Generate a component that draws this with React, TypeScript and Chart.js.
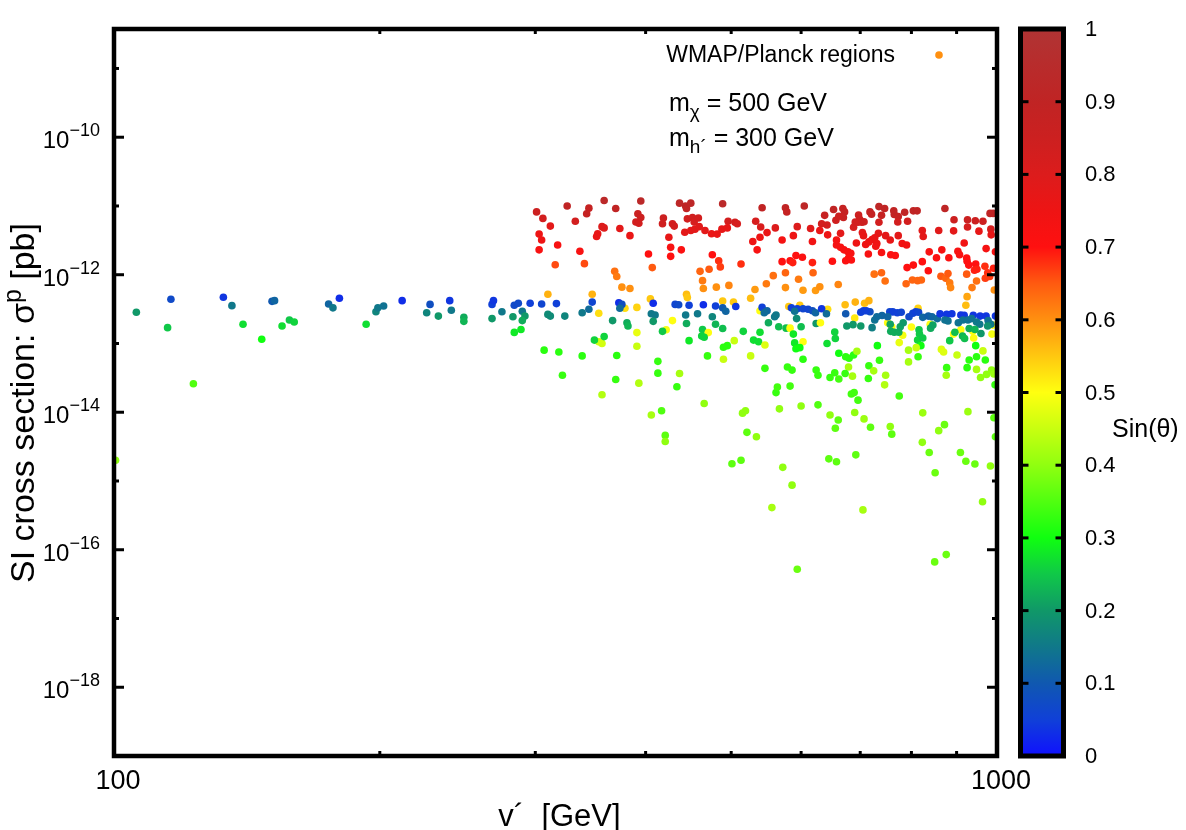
import React, { useEffect, useRef } from 'react';
import { Chart, registerables } from 'chart.js';

Chart.register(...registerables);

// Each point: [v' (GeV), SI cross section sigma^p (pb), sin(theta)]
type Pt = [number, number, number];

const pointsBelow300: Pt[] = [
  [106, 2.85e-13, 0.2], [116, 4.4e-13, 0.07], [115, 1.7e-13, 0.25], [123, 2.6e-14, 0.35], [133, 4.7e-13, 0.04],
  [136, 3.55e-13, 0.15], [140, 1.9e-13, 0.27], [147, 1.15e-13, 0.3], [151, 4.1e-13, 0.1], [152, 4.2e-13, 0.12],
  [155, 1.8e-13, 0.27], [158, 2.2e-13, 0.25], [160, 2.05e-13, 0.26], [175, 3.75e-13, 0.12], [177, 3.3e-13, 0.15],
  [180, 4.55e-13, 0.03], [193, 1.9e-13, 0.27], [198, 2.9e-13, 0.17], [199, 3.3e-13, 0.15], [202, 3.5e-13, 0.14],
  [212, 4.2e-13, 0.03], [226, 2.8e-13, 0.17], [228, 3.7e-13, 0.08], [233, 2.5e-13, 0.2], [240, 4.2e-13, 0.04],
  [241, 3.05e-13, 0.15], [249, 2.4e-13, 0.22], [249, 2.1e-13, 0.23], [268, 3.7e-13, 0.05], [269, 4.2e-13, 0.04],
  [268, 2.3e-13, 0.2], [275, 2.9e-13, 0.15], [283, 2.45e-13, 0.2], [284, 3.6e-13, 0.07], [287, 3.85e-13, 0.07],
  [290, 2.95e-13, 0.15], [292, 2.5e-13, 0.2], [290, 2.15e-13, 0.22], [284, 1.45e-13, 0.28], [289, 1.6e-13, 0.28],
  [296, 3.85e-13, 0.05], [100.4, 2e-15, 0.4],
];

const points300to440: Pt[] = [
  [305, 3.75e-13, 0.06], [310, 5.2e-13, 0.57], [307, 8e-14, 0.32], [310, 2.65e-13, 0.18],
  [301, 8.2e-12, 0.85], [306, 6.6e-12, 0.83], [312, 5.1e-12, 0.78], [303, 3.9e-12, 0.75], [305, 3.2e-12, 0.75],
  [303, 2.3e-12, 0.72], [318, 2.7e-12, 0.72], [316, 1.4e-12, 0.66], [326, 1e-11, 0.9], [333, 6e-12, 0.83],
  [337, 2.2e-12, 0.72], [341, 1.45e-12, 0.66], [345, 9.3e-12, 0.88], [343, 7.7e-12, 0.88], [359, 1.2e-11, 0.93],
  [357, 5e-12, 0.8], [359, 4.8e-12, 0.8], [353, 3.95e-12, 0.77], [352, 3.6e-12, 0.76], [370, 9.2e-12, 0.9],
  [374, 4.7e-12, 0.78], [384, 3.7e-12, 0.76], [395, 1.18e-11, 0.93], [392, 7.7e-12, 0.86], [395, 6.8e-12, 0.85],
  [390, 5.85e-12, 0.83], [393, 5.6e-12, 0.83], [403, 2e-12, 0.7], [407, 1.27e-12, 0.65], [369, 1.12e-12, 0.63],
  [371, 9.4e-13, 0.62], [376, 6.6e-13, 0.6], [384, 6.3e-13, 0.6], [419, 6.7e-12, 0.85], [418, 5.5e-12, 0.84],
  [429, 5.5e-12, 0.83], [431, 5.1e-12, 0.83], [425, 3.5e-12, 0.77], [427, 2.5e-12, 0.72], [427, 1.85e-12, 0.7],
  [437, 1.1e-11, 0.92],
  [348, 5.2e-13, 0.57], [405, 4.45e-13, 0.55], [354, 2.75e-13, 0.53], [379, 3.25e-13, 0.53], [391, 3.35e-13, 0.54],
  [429, 2.15e-13, 0.5], [391, 1.44e-13, 0.48], [422, 1.58e-13, 0.49], [354, 1.06e-13, 0.46], [357, 1e-13, 0.46],
  [391, 9.1e-14, 0.45], [393, 2.65e-14, 0.43], [437, 3.65e-14, 0.42],
  [317, 3.8e-13, 0.05], [348, 4e-13, 0.06], [373, 3.9e-13, 0.03], [376, 3.7e-13, 0.08], [408, 3.85e-13, 0.03],
  [432, 3.7e-13, 0.06], [436, 3.65e-13, 0.07],
  [312, 2.5e-13, 0.18], [324, 2.5e-13, 0.17], [339, 2.8e-13, 0.15], [345, 3.15e-13, 0.13], [374, 3.25e-13, 0.13],
  [367, 2.15e-13, 0.2], [381, 2e-13, 0.22], [382, 1.8e-13, 0.23], [406, 2.7e-13, 0.15], [410, 2.6e-13, 0.15],
  [408, 2.1e-13, 0.2], [418, 1.5e-13, 0.25], [350, 1.12e-13, 0.26], [359, 1.26e-13, 0.26], [319, 7.5e-14, 0.32],
  [339, 6.6e-14, 0.32], [371, 6.7e-14, 0.32], [322, 3.45e-14, 0.33], [370, 3e-14, 0.33], [413, 5.5e-14, 0.33],
  [413, 3.7e-14, 0.33], [434, 2.35e-14, 0.33],
];

const points440to660: Pt[] = [
  [444, 1e-11, 0.9], [450, 1.1e-11, 0.92], [445, 9.2e-12, 0.9], [489, 1.08e-11, 0.93], [542, 9.4e-12, 0.9],
  [576, 9.4e-12, 0.9], [578, 8.2e-12, 0.88], [605, 1e-11, 0.92], [638, 7.3e-12, 0.87], [653, 8.9e-12, 0.9],
  [446, 6.5e-12, 0.83], [452, 6.8e-12, 0.84], [454, 5.85e-12, 0.82], [459, 6.7e-12, 0.83], [496, 6e-12, 0.83],
  [505, 5.8e-12, 0.83], [508, 5.5e-12, 0.82], [533, 6e-12, 0.82], [540, 4.95e-12, 0.81], [561, 4.8e-12, 0.8],
  [594, 5e-12, 0.8], [615, 4.7e-12, 0.79], [633, 5.5e-12, 0.83], [642, 5.3e-12, 0.83], [657, 6.2e-12, 0.84],
  [662, 7.1e-12, 0.85],
  [443, 4.15e-12, 0.78], [450, 4.4e-12, 0.78], [455, 4.6e-12, 0.78], [460, 5e-12, 0.79], [467, 4.4e-12, 0.78],
  [475, 3.95e-12, 0.76], [482, 3.9e-12, 0.76], [488, 4.6e-12, 0.77], [495, 4.8e-12, 0.77], [529, 3.05e-12, 0.75],
  [539, 3.5e-12, 0.75], [549, 4.1e-12, 0.76], [535, 2.3e-12, 0.72], [571, 3.2e-12, 0.73], [588, 3.7e-12, 0.75],
  [618, 3.05e-12, 0.74], [630, 4.4e-12, 0.76], [643, 3.8e-12, 0.75], [658, 3.2e-12, 0.73], [658, 2.7e-12, 0.73],
  [439, 2.3e-12, 0.71], [476, 1.95e-12, 0.7], [484, 1.6e-12, 0.68], [486, 1.3e-12, 0.67], [513, 1.43e-12, 0.68],
  [571, 1.55e-12, 0.7], [583, 1.6e-12, 0.7], [587, 1.5e-12, 0.69], [592, 1.9e-12, 0.7], [602, 1.8e-12, 0.71],
  [618, 1.5e-12, 0.69], [651, 1.57e-12, 0.7],
  [461, 1.12e-12, 0.64], [472, 1.2e-12, 0.65], [464, 8.2e-13, 0.62], [465, 6.3e-13, 0.6], [481, 6.6e-13, 0.6],
  [497, 7e-13, 0.61], [532, 6.1e-13, 0.59], [548, 7.4e-13, 0.62], [558, 9.7e-13, 0.63], [576, 1.07e-12, 0.64],
  [596, 8.6e-13, 0.62], [576, 6.5e-13, 0.6], [603, 5.95e-13, 0.59], [623, 5.9e-13, 0.59], [630, 6.7e-13, 0.6],
  [619, 1.07e-12, 0.64], [661, 7.2e-13, 0.61], [526, 4.55e-13, 0.56], [445, 5.2e-13, 0.56], [446, 4.65e-13, 0.55],
  [489, 4.15e-13, 0.55], [503, 4e-13, 0.55], [581, 3.45e-13, 0.55], [598, 3.6e-13, 0.55], [643, 3.15e-13, 0.53],
  [539, 3e-13, 0.5],
  [448, 3.6e-13, 0.05], [465, 3.65e-13, 0.03], [480, 3.5e-13, 0.05], [489, 3.3e-13, 0.1], [493, 2.95e-13, 0.12],
  [506, 3.45e-13, 0.04], [542, 3.35e-13, 0.05], [549, 3e-13, 0.12], [545, 2.8e-13, 0.13], [585, 3.3e-13, 0.05],
  [594, 3.2e-13, 0.05], [603, 3.2e-13, 0.06], [611, 3.15e-13, 0.06], [618, 3e-13, 0.08], [623, 2.8e-13, 0.12],
  [633, 3.2e-13, 0.04], [641, 2.7e-13, 0.13],
  [444, 2.6e-13, 0.15], [458, 2.7e-13, 0.15], [476, 2.45e-13, 0.17], [562, 2.6e-13, 0.15], [560, 2.45e-13, 0.15],
  [590, 2.95e-13, 0.14], [593, 2.3e-13, 0.18], [445, 1.95e-13, 0.22], [480, 1.9e-13, 0.23], [489, 1.65e-13, 0.24],
  [551, 2e-13, 0.22], [566, 1.75e-13, 0.24], [577, 1.67e-13, 0.24], [600, 1.75e-13, 0.24], [624, 1.95e-13, 0.2],
  [631, 2e-13, 0.5], [583, 1.67e-13, 0.5], [464, 1.6e-13, 0.25], [471, 1.44e-13, 0.5], [463, 1.28e-13, 0.26],
  [466, 1.23e-13, 0.26], [516, 1.5e-13, 0.26], [539, 1.46e-13, 0.27], [530, 1.12e-13, 0.27], [537, 1.06e-13, 0.27],
  [546, 9.5e-14, 0.47], [588, 1.37e-13, 0.28], [590, 1.02e-13, 0.28], [603, 1.06e-13, 0.5], [592, 8.4e-14, 0.3],
  [598, 8.7e-14, 0.3], [603, 5.9e-14, 0.32], [655, 1.47e-13, 0.26], [656, 1.18e-13, 0.26], [642, 1e-13, 0.27],
  [448, 1.1e-13, 0.28], [504, 1.1e-13, 0.45], [495, 9.3e-14, 0.32], [490, 8.8e-14, 0.32], [526, 6.6e-14, 0.45],
  [490, 5.9e-14, 0.45], [470, 6.6e-14, 0.33], [546, 4.35e-14, 0.33], [579, 4.55e-14, 0.33], [586, 4.1e-14, 0.33],
  [624, 4.1e-14, 0.33], [627, 3.45e-14, 0.33], [655, 3.75e-14, 0.33], [647, 3.2e-14, 0.33], [662, 3.05e-14, 0.34],
  [564, 2.33e-14, 0.34], [583, 2.4e-14, 0.34], [662, 7.2e-14, 0.3],
];

const points660to1000: Pt[] = [
  [669, 9.2e-12, 0.88], [672, 8.2e-12, 0.88], [670, 6.8e-12, 0.87], [697, 7.4e-12, 0.85], [699, 6.4e-12, 0.85],
  [696, 5.8e-12, 0.84], [703, 5.8e-12, 0.84], [707, 5.9e-12, 0.85], [718, 8.2e-12, 0.88], [721, 7.6e-12, 0.88],
  [735, 9.8e-12, 0.92], [746, 9.2e-12, 0.9], [740, 7.3e-12, 0.88], [764, 8.5e-12, 0.9], [765, 7.5e-12, 0.89],
  [773, 7e-12, 0.88], [786, 8.1e-12, 0.9], [804, 8.5e-12, 0.9], [812, 8.5e-12, 0.9], [873, 9.2e-12, 0.91],
  [982, 7.8e-12, 0.9], [990, 7.8e-12, 0.9], [894, 6.3e-12, 0.85], [926, 6.3e-12, 0.86], [945, 6.1e-12, 0.85],
  [964, 6e-12, 0.85], [688, 4.9e-12, 0.82], [691, 5.85e-12, 0.83], [735, 5.8e-12, 0.83], [772, 5.85e-12, 0.83],
  [792, 6e-12, 0.83], [926, 4.95e-12, 0.82], [984, 4.6e-12, 0.82],
  [665, 4e-12, 0.78], [704, 4.1e-12, 0.78], [706, 3.7e-12, 0.77], [734, 4e-12, 0.78], [748, 3.7e-12, 0.78],
  [757, 3.2e-12, 0.77], [773, 3.7e-12, 0.78], [823, 4.4e-12, 0.78], [825, 3.6e-12, 0.78], [859, 4.4e-12, 0.79],
  [893, 4.35e-12, 0.78], [954, 4.3e-12, 0.77], [985, 3.8e-12, 0.77], [693, 2.9e-12, 0.75], [710, 2.75e-12, 0.75],
  [716, 3e-12, 0.75], [722, 3.25e-12, 0.75], [727, 3.45e-12, 0.76], [731, 2.85e-12, 0.75], [729, 2.6e-12, 0.74],
  [781, 2.85e-12, 0.74], [790, 2.7e-12, 0.74], [918, 2.9e-12, 0.74], [665, 2.5e-12, 0.72], [671, 2.3e-12, 0.72],
  [678, 2.15e-12, 0.72], [683, 2.05e-12, 0.72], [679, 1.75e-12, 0.71], [674, 1.6e-12, 0.71], [684, 1.64e-12, 0.71],
  [715, 2e-12, 0.72], [740, 2.1e-12, 0.72], [758, 1.95e-12, 0.71], [767, 1.9e-12, 0.71], [838, 2.15e-12, 0.72],
  [866, 2.3e-12, 0.73], [903, 2.2e-12, 0.72], [907, 1.95e-12, 0.72], [972, 2.4e-12, 0.73], [996, 2.15e-12, 0.73],
  [854, 1.77e-12, 0.71], [882, 1.77e-12, 0.71], [823, 1.55e-12, 0.7], [804, 1.38e-12, 0.7], [791, 1.27e-12, 0.7],
  [924, 1.75e-12, 0.7], [925, 1.57e-12, 0.7], [929, 1.38e-12, 0.7], [946, 1.43e-12, 0.7], [949, 1.2e-12, 0.69],
  [943, 1.16e-12, 0.69], [969, 1.33e-12, 0.68], [976, 1.07e-12, 0.68], [981, 9.4e-13, 0.67], [970, 8.9e-13, 0.67],
  [836, 1.14e-12, 0.7], [991, 1.24e-12, 0.69],
  [726, 1.02e-12, 0.63], [740, 1.07e-12, 0.64], [747, 8.1e-13, 0.63], [789, 7.4e-13, 0.64], [802, 8.4e-13, 0.64],
  [813, 8.2e-13, 0.64], [821, 8.4e-13, 0.64], [864, 9.5e-13, 0.65], [875, 8.9e-13, 0.64], [880, 1.04e-12, 0.65],
  [884, 7.6e-13, 0.62], [886, 6.5e-13, 0.61], [924, 1.02e-12, 0.65], [948, 8.1e-13, 0.63], [937, 6.5e-13, 0.62],
  [993, 6e-13, 0.6], [925, 4.8e-13, 0.58], [922, 3.6e-13, 0.56], [673, 3.65e-13, 0.56], [691, 4e-13, 0.57],
  [708, 3.85e-13, 0.56], [716, 4.2e-13, 0.57], [814, 3.25e-13, 0.54], [690, 2.35e-13, 0.52],
  [752, 2e-13, 0.5], [760, 1.75e-13, 0.5], [782, 1.32e-13, 0.49], [800, 1.74e-13, 0.5], [840, 1.9e-13, 0.5],
  [775, 1.03e-13, 0.48], [910, 1.58e-13, 0.5], [939, 1.5e-13, 0.5], [893, 1.37e-13, 0.5], [941, 1.2e-13, 0.5],
  [987, 1.37e-13, 0.49], [989, 1.85e-13, 0.5],
  [674, 2.7e-13, 0.1], [701, 2.85e-13, 0.05], [706, 3e-13, 0.05], [718, 2.9e-13, 0.08], [711, 3e-13, 0.05],
  [756, 2.9e-13, 0.06], [762, 2.88e-13, 0.05], [771, 2.8e-13, 0.05], [779, 2.85e-13, 0.06], [752, 2.45e-13, 0.12],
  [741, 2.55e-13, 0.12], [795, 2.45e-13, 0.07], [803, 2.75e-13, 0.06], [809, 2.9e-13, 0.05], [815, 2.85e-13, 0.06],
  [824, 2.4e-13, 0.12], [836, 2.5e-13, 0.11], [844, 2.45e-13, 0.12], [856, 2.3e-13, 0.13], [862, 2.7e-13, 0.04],
  [877, 2.65e-13, 0.04], [889, 2.7e-13, 0.04], [910, 2.6e-13, 0.04], [918, 2.58e-13, 0.04], [940, 2.58e-13, 0.04],
  [957, 2.5e-13, 0.04], [972, 2.5e-13, 0.04], [996, 2.5e-13, 0.04],
  [873, 2.2e-13, 0.14], [880, 2.13e-13, 0.14], [904, 2e-13, 0.14], [915, 2.2e-13, 0.14], [927, 2.2e-13, 0.14],
  [936, 2.3e-13, 0.14], [948, 2.05e-13, 0.15], [956, 1.9e-13, 0.15], [977, 2.15e-13, 0.14], [984, 1.9e-13, 0.15],
  [722, 1.7e-13, 0.16], [727, 2.2e-13, 0.14], [731, 2.45e-13, 0.13],
  [676, 1.8e-13, 0.2], [687, 1.88e-13, 0.2], [701, 1.8e-13, 0.2], [757, 1.9e-13, 0.21], [758, 1.5e-13, 0.22],
  [765, 1.46e-13, 0.22], [774, 1.46e-13, 0.22], [777, 1.75e-13, 0.21], [783, 2e-13, 0.2], [816, 1.58e-13, 0.25],
  [817, 1.37e-13, 0.25], [813, 1.12e-13, 0.26], [824, 1.2e-13, 0.25], [841, 1.67e-13, 0.22], [846, 1.85e-13, 0.21],
  [884, 1.1e-13, 0.25], [896, 1.46e-13, 0.24], [914, 1.28e-13, 0.23], [919, 1.18e-13, 0.24], [930, 1.65e-13, 0.22],
  [944, 1.6e-13, 0.23], [959, 1.4e-13, 0.2], [976, 1.8e-13, 0.19],
  [820, 9.3e-14, 0.3], [810, 8.7e-14, 0.45], [794, 8e-14, 0.42], [814, 6.4e-14, 0.33], [794, 5.4e-14, 0.42],
  [732, 9.3e-14, 0.3], [674, 6.4e-14, 0.32], [680, 6.1e-14, 0.32], [688, 6.8e-14, 0.32], [694, 7.7e-14, 0.42],
  [679, 4.55e-14, 0.42], [673, 3.65e-14, 0.33], [686, 3.35e-14, 0.42], [716, 4.75e-14, 0.33], [725, 4e-14, 0.42],
  [736, 5.7e-14, 0.33], [715, 3.1e-14, 0.33], [748, 3.45e-14, 0.42], [746, 2.5e-14, 0.43], [870, 7.5e-14, 0.47],
  [865, 8.2e-14, 0.47], [877, 4.45e-14, 0.33], [876, 3.45e-14, 0.42], [901, 6.8e-14, 0.45], [946, 9.3e-14, 0.3],
  [930, 5.75e-14, 0.32], [948, 6.4e-14, 0.32], [964, 7.8e-14, 0.45], [925, 4.45e-14, 0.32], [948, 4.2e-14, 0.42],
  [970, 5.75e-14, 0.32], [958, 3.2e-14, 0.4], [973, 3.55e-14, 0.4], [986, 4.1e-14, 0.4], [992, 3.6e-14, 0.41],
];

const pointsLowTail: Pt[] = [
  [357, 1.8e-14, 0.43], [406, 9.1e-15, 0.42], [417, 1.05e-14, 0.35], [466, 1.34e-14, 0.4], [515, 9.7e-15, 0.4],
  [519, 1.05e-14, 0.4], [421, 4.6e-15, 0.36], [421, 3.75e-15, 0.4], [521, 5.1e-15, 0.36], [534, 4.4e-15, 0.4],
  [501, 1.78e-15, 0.36], [513, 2e-15, 0.36], [562, 1.93e-14, 0.33], [567, 1.12e-14, 0.4], [600, 1.23e-14, 0.4],
  [627, 1.28e-14, 0.35], [647, 9.1e-15, 0.4], [661, 7.7e-15, 0.36], [656, 5.85e-15, 0.36], [684, 1.84e-14, 0.34],
  [689, 1.93e-14, 0.34], [696, 1.5e-14, 0.34], [690, 9.9e-15, 0.4], [707, 8e-15, 0.41], [719, 6.05e-15, 0.36],
  [775, 1.72e-14, 0.34], [757, 6.2e-15, 0.4], [760, 4.8e-15, 0.36], [824, 9.8e-15, 0.41], [927, 1.02e-14, 0.41],
  [872, 6.6e-15, 0.37], [859, 5.4e-15, 0.4], [823, 3.65e-15, 0.4], [838, 2.6e-15, 0.37], [909, 2.6e-15, 0.37],
  [922, 1.94e-15, 0.37], [944, 1.77e-15, 0.37], [983, 1.65e-15, 0.4], [992, 8.3e-15, 0.36], [996, 4.4e-15, 0.36],
  [995, 2.5e-14, 0.33], [572, 1.58e-15, 0.4], [586, 8.7e-16, 0.4], [556, 4.1e-16, 0.42], [645, 2.1e-15, 0.36],
  [658, 1.9e-15, 0.36], [692, 2.4e-15, 0.36], [851, 1.32e-15, 0.37], [963, 5e-16, 0.4], [705, 3.8e-16, 0.42],
  [876, 8.5e-17, 0.37], [850, 6.65e-17, 0.37], [594, 5.2e-17, 0.37],
];

const pointGroups: Pt[][] = [pointsBelow300, points300to440, points440to660, points660to1000, pointsLowTail];

// axis settings
const xRange: [number, number] = [100, 1000];
const yRange: [number, number] = [1e-19, 3.75e-9];
const xMajorTicks = [100, 1000];
const xMinorTicks = [200, 300, 400, 500, 600, 700, 800, 900];
const yMajorExponents = [-18, -16, -14, -12, -10];
const yMinorExponents = [-17, -15, -13, -11, -9];
const colorbarTicks = [0, 0.1, 0.2, 0.3, 0.4, 0.5, 0.6, 0.7, 0.8, 0.9, 1];
const colorbarLabels = ['0', '0.1', '0.2', '0.3', '0.4', '0.5', '0.6', '0.7', '0.8', '0.9', '1'];

const legendLabel = 'WMAP/Planck regions';
const legendKeySin = 0.6;

// palette: [position, r, g, b]
const paletteStops: [number, number, number, number][] = [
  [0.0, 16, 16, 255], [0.05, 16, 64, 216], [0.1, 16, 88, 176], [0.15, 16, 120, 138], [0.2, 16, 152, 104],
  [0.25, 16, 200, 72], [0.3, 16, 255, 16], [0.35, 80, 255, 16], [0.4, 144, 255, 16], [0.45, 200, 255, 16],
  [0.5, 255, 255, 16], [0.55, 255, 200, 16], [0.6, 255, 144, 16], [0.65, 255, 90, 16], [0.7, 255, 16, 16],
  [0.75, 238, 20, 20], [0.8, 220, 28, 28], [0.85, 204, 32, 32], [0.9, 192, 36, 36], [0.95, 184, 44, 44],
  [1.0, 176, 52, 52],
];

function paletteColor(s: number): string {
  const t = Math.max(0, Math.min(1, s));
  for (let i = 1; i < paletteStops.length; i++) {
    const b = paletteStops[i];
    if (t <= b[0]) {
      const a = paletteStops[i - 1];
      const f = (t - a[0]) / (b[0] - a[0]);
      const r = Math.round(a[1] + (b[1] - a[1]) * f);
      const g = Math.round(a[2] + (b[2] - a[2]) * f);
      const bl = Math.round(a[3] + (b[3] - a[3]) * f);
      return `rgb(${r},${g},${bl})`;
    }
  }
  const l = paletteStops[paletteStops.length - 1];
  return `rgb(${l[1]},${l[2]},${l[3]})`;
}

const FONT = '"Liberation Sans", Arial, Helvetica, sans-serif';

const gnuplotFramePlugin = {
  id: 'gnuplotFrame',
  afterDraw(chart: any) {
    const { ctx, chartArea: a, scales } = chart;
    const xs = scales.x;
    const ys = scales.y;
    const cb = scales.cb;
    ctx.save();
    ctx.fillStyle = '#000';
    ctx.strokeStyle = '#000';

    // frame
    ctx.lineWidth = 4.5;
    ctx.strokeRect(a.left, a.top, a.right - a.left, a.bottom - a.top);

    // ticks
    ctx.lineWidth = 3;
    const tick = (x1: number, y1: number, x2: number, y2: number) => {
      ctx.beginPath();
      ctx.moveTo(x1, y1);
      ctx.lineTo(x2, y2);
      ctx.stroke();
    };
    yMajorExponents.forEach((e) => {
      const y = ys.getPixelForValue(Math.pow(10, e));
      tick(a.left, y, a.left + 10, y);
      tick(a.right, y, a.right - 10, y);
    });
    yMinorExponents.forEach((e) => {
      const y = ys.getPixelForValue(Math.pow(10, e));
      tick(a.left, y, a.left + 5, y);
      tick(a.right, y, a.right - 5, y);
    });
    xMinorTicks.forEach((v) => {
      const x = xs.getPixelForValue(v);
      tick(x, a.bottom, x, a.bottom - 5);
      tick(x, a.top, x, a.top + 5);
    });

    // x tick labels
    ctx.font = `27px ${FONT}`;
    ctx.textAlign = 'center';
    ctx.textBaseline = 'alphabetic';
    xMajorTicks.forEach((v) => {
      const x = xs.getPixelForValue(v);
      ctx.fillText(String(v), x + 4, a.bottom + 33);
    });

    // y tick labels: 10^e
    yMajorExponents.forEach((e) => {
      const y = ys.getPixelForValue(Math.pow(10, e));
      const expText = '\u2212' + String(-e);
      ctx.font = `18px ${FONT}`;
      ctx.textAlign = 'right';
      const right = a.left - 14;
      ctx.fillText(expText, right, y - 1);
      const w = ctx.measureText(expText).width;
      ctx.font = `24px ${FONT}`;
      ctx.fillText('10', right - w, y + 11);
    });

    // axis titles
    ctx.font = `31px ${FONT}`;
    ctx.textAlign = 'center';
    ctx.textBaseline = 'alphabetic';
    ctx.fillText('v\u00B4  [GeV]', (a.left + a.right) / 2 + 4, 826);

    ctx.save();
    ctx.translate(34, 403);
    ctx.rotate(-Math.PI / 2);
    const p1 = 'SI cross section: \u03C3';
    const p2 = 'p';
    const p3 = ' [pb]';
    const big = `34px ${FONT}`;
    const small = `25px ${FONT}`;
    ctx.font = big;
    const w1 = ctx.measureText(p1).width;
    const w3 = ctx.measureText(p3).width;
    ctx.font = small;
    const w2 = ctx.measureText(p2).width;
    const total = w1 + w2 + w3;
    let cx = -total / 2;
    ctx.textAlign = 'left';
    ctx.font = big;
    ctx.fillText(p1, cx, 0);
    cx += w1;
    ctx.font = small;
    ctx.fillText(p2, cx, -13);
    cx += w2;
    ctx.font = big;
    ctx.fillText(p3, cx, 0);
    ctx.restore();

    // colorbar
    const cbLeft = 1020.5;
    const cbRight = 1063.5;
    const yTop = cb.getPixelForValue(1);
    const yBot = cb.getPixelForValue(0);
    const grad = ctx.createLinearGradient(0, yBot, 0, yTop);
    paletteStops.forEach((s) => grad.addColorStop(s[0], `rgb(${s[1]},${s[2]},${s[3]})`));
    ctx.fillStyle = grad;
    ctx.fillRect(cbLeft, yTop, cbRight - cbLeft, yBot - yTop);
    ctx.fillStyle = '#000';
    ctx.lineWidth = 5;
    ctx.strokeRect(cbLeft, yTop, cbRight - cbLeft, yBot - yTop);
    ctx.lineWidth = 3;
    ctx.font = `22px ${FONT}`;
    ctx.textAlign = 'left';
    ctx.textBaseline = 'middle';
    colorbarTicks.forEach((v, i) => {
      const y = cb.getPixelForValue(v);
      if (v > 0 && v < 1) {
        tick(cbLeft, y, cbLeft + 8, y);
        tick(cbRight, y, cbRight - 8, y);
      }
      ctx.fillText(colorbarLabels[i], 1085, y + 1);
    });
    ctx.font = `25px ${FONT}`;
    ctx.fillText('Sin(\u03B8)', 1112, 430);

    // legend entry
    ctx.font = `23px ${FONT}`;
    ctx.textAlign = 'right';
    ctx.textBaseline = 'middle';
    ctx.fillText(legendLabel, 895, 56);
    ctx.fillStyle = paletteColor(legendKeySin);
    ctx.beginPath();
    ctx.arc(939, 55, 3.8, 0, Math.PI * 2);
    ctx.fill();
    ctx.fillStyle = '#000';

    // annotations
    ctx.textAlign = 'left';
    ctx.textBaseline = 'alphabetic';
    const drawSub = (x: number, y: number, base: string, sub: string, rest: string) => {
      ctx.font = `25px ${FONT}`;
      ctx.fillText(base, x, y);
      let cx2 = x + ctx.measureText(base).width;
      ctx.font = `19px ${FONT}`;
      ctx.fillText(sub, cx2, y + 7);
      cx2 += ctx.measureText(sub).width;
      ctx.font = `25px ${FONT}`;
      ctx.fillText(rest, cx2, y);
    };
    drawSub(669, 111, 'm', '\u03C7', ' = 500 GeV');
    drawSub(669, 146, 'm', 'h\u00B4', ' = 300 GeV');

    ctx.restore();
  },
};

export default function App() {
  const canvasRef = useRef<HTMLCanvasElement | null>(null);

  useEffect(() => {
    const canvas = canvasRef.current;
    if (!canvas) return;
    const datasets = pointGroups.map((group, i) => ({
      label: `${legendLabel} ${i}`,
      data: group.map(([v, sigma]) => ({ x: v, y: sigma })),
      pointBackgroundColor: group.map((p) => paletteColor(p[2])),
      pointBorderWidth: 0,
      pointRadius: 3.8,
      pointHoverRadius: 3.8,
      showLine: false,
    }));
    const chart = new Chart(canvas, {
      type: 'scatter',
      data: { datasets },
      options: {
        animation: false,
        responsive: false,
        maintainAspectRatio: false,
        devicePixelRatio: 1,
        events: [],
        layout: { padding: { left: 114, right: 189, top: 29, bottom: 74 } },
        plugins: { legend: { display: false }, tooltip: { enabled: false } },
        scales: {
          x: { type: 'logarithmic', min: xRange[0], max: xRange[1], display: false },
          y: { type: 'logarithmic', min: yRange[0], max: yRange[1], display: false },
          cb: { type: 'linear', axis: 'y', position: 'right', min: 0, max: 1, display: false },
        },
      } as any,
      plugins: [gnuplotFramePlugin],
    });
    return () => chart.destroy();
  }, []);

  return (
    <div style={{ position: 'absolute', left: 0, top: 0, width: 1186, height: 830, background: '#fff' }}>
      <canvas ref={canvasRef} width={1186} height={830} style={{ width: 1186, height: 830, display: 'block' }} />
    </div>
  );
}
